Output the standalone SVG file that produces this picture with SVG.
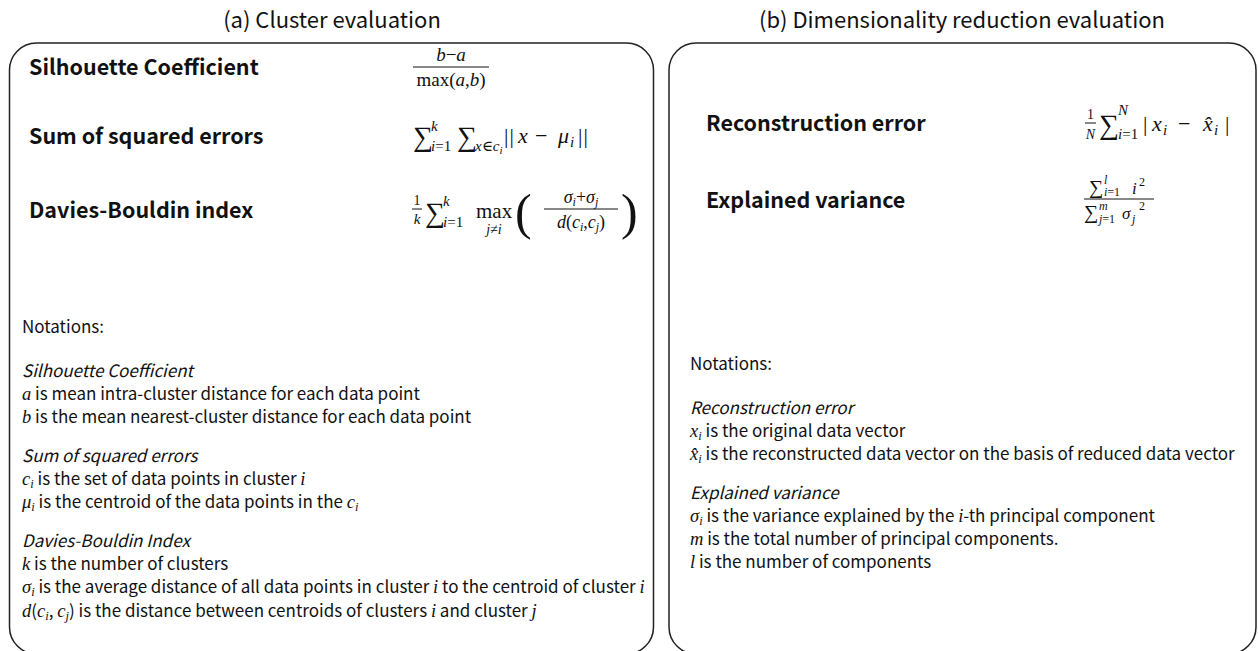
<svg xmlns="http://www.w3.org/2000/svg" width="1258" height="651" viewBox="0 0 1258 651">
  <style>
    .panel { fill: #ffffff; stroke: #222222; stroke-width: 1.5; }
    .title { font-family: "Noto Sans CJK SC", "Noto Sans", sans-serif; fill: #111111; }
    .head { font-family: "Noto Sans CJK SC", "Noto Sans", sans-serif; font-weight: bold; fill: #111111; }
    .note { font-family: "Noto Sans CJK SC", "Noto Sans", sans-serif; fill: #111111; }
    .it { font-style: italic; }
    .m { font-family: "Liberation Serif", "DejaVu Serif", serif; fill: #111111; }
    .mi { font-family: "Liberation Serif", "DejaVu Serif", serif; font-style: italic; }
    .note .mi { font-size: 18.5px; }
    .note .mi.sub { font-size: 12.5px; }
    .bar { stroke: #111111; stroke-width: 1; }
  </style>
  <rect width="1258" height="651" fill="#ffffff"/>

  <!-- panel (a): cluster evaluation -->
  <g id="cluster-panel">
    <text class="title" x="332" y="28" font-size="22" text-anchor="middle">(a) Cluster evaluation</text>
    <rect class="panel" x="9.5" y="43" width="644" height="611" rx="27" ry="27"/>
  </g>

  <g id="silhouette">
    <text class="head" x="29" y="75" font-size="21.5">Silhouette Coefficient</text>
    <text class="m" x="451" y="61" font-size="19" text-anchor="middle"><tspan class="mi">b</tspan>−<tspan class="mi">a</tspan></text>
    <line class="bar" x1="413" y1="67" x2="489" y2="67"/>
    <text class="m" x="451" y="86" font-size="19" text-anchor="middle">max(<tspan class="mi">a</tspan>,<tspan class="mi">b</tspan>)</text>
  </g>

  <g id="sse">
    <text class="head" x="29" y="144" font-size="21.5">Sum of squared errors</text>
    <text class="m" x="413" y="146" font-size="28">∑</text>
    <text class="m" x="431" y="131" font-size="15"><tspan class="mi">k</tspan></text>
    <text class="m" x="431" y="151" font-size="15"><tspan class="mi">i</tspan>=1</text>
    <text class="m" x="457" y="146" font-size="28">∑</text>
    <text class="m" x="475" y="151" font-size="15"><tspan class="mi">x</tspan>∈<tspan class="mi">c</tspan><tspan class="mi" font-size="11" dy="3">i</tspan></text>
    <text class="m" x="504" y="143" font-size="22" letter-spacing="1">||</text>
    <text class="m" x="518" y="143" font-size="22"><tspan class="mi">x</tspan></text>
    <text class="m" x="535" y="143" font-size="22">−</text>
    <text class="m" x="558" y="143" font-size="22"><tspan class="mi">μ</tspan></text>
    <text class="m" x="570" y="147" font-size="15"><tspan class="mi">i</tspan></text>
    <text class="m" x="578" y="143" font-size="22" letter-spacing="1">||</text>
  </g>

  <g id="davies-bouldin">
    <text class="head" x="29" y="218" font-size="21.5">Davies-Bouldin index</text>
    <text class="m" x="417" y="205" text-anchor="middle" font-size="14">1</text>
    <line class="bar" x1="412" y1="209" x2="422" y2="209"/>
    <text class="m" x="417" y="224" text-anchor="middle" font-size="15"><tspan class="mi">k</tspan></text>
    <text class="m" x="425" y="222" font-size="28">∑</text>
    <text class="m" x="443" y="206" font-size="15"><tspan class="mi">k</tspan></text>
    <text class="m" x="443" y="227" font-size="15"><tspan class="mi">i</tspan>=1</text>
    <text class="m" x="476" y="218" font-size="21">max</text>
    <text class="m" x="494" y="234" text-anchor="middle" font-size="14"><tspan class="mi">j</tspan>≠<tspan class="mi">i</tspan></text>
    <text class="m" x="515" y="229" font-size="50">(</text>
    <text class="m" x="581" y="203" text-anchor="middle" font-size="18"><tspan class="mi">σ</tspan><tspan class="mi" font-size="12" dy="3">i</tspan><tspan dy="-3">+</tspan><tspan class="mi">σ</tspan><tspan class="mi" font-size="12" dy="3">j</tspan></text>
    <line class="bar" x1="544" y1="209" x2="618" y2="209"/>
    <text class="m" x="581" y="228" text-anchor="middle" font-size="18"><tspan class="mi">d</tspan>(<tspan class="mi">c</tspan><tspan class="mi" font-size="12" dy="3">i</tspan><tspan dy="-3">,</tspan><tspan class="mi">c</tspan><tspan class="mi" font-size="12" dy="3">j</tspan><tspan dy="-3">)</tspan></text>
    <text class="m" x="621" y="229" font-size="50">)</text>
  </g>

  <g id="cluster-notes" class="note" font-size="17">
    <text x="22" y="333">Notations:</text>
    <text class="it" x="22" y="377">Silhouette Coefficient</text>
    <text x="22" y="400"><tspan class="mi">a</tspan> is mean intra-cluster distance for each data point</text>
    <text x="22" y="423"><tspan class="mi">b</tspan> is the mean nearest-cluster distance for each data point</text>
    <text class="it" x="22" y="462">Sum of squared errors</text>
    <text x="22" y="485"><tspan class="mi">c</tspan><tspan class="mi sub" dy="3">i</tspan><tspan dy="-3"> is the set of data points in cluster </tspan><tspan class="mi">i</tspan></text>
    <text x="22" y="508"><tspan class="mi">μ</tspan><tspan class="mi sub" dy="3">i</tspan><tspan dy="-3"> is the centroid of the data points in the </tspan><tspan class="mi">c</tspan><tspan class="mi sub" dy="3">i</tspan></text>
    <text class="it" x="22" y="547">Davies-Bouldin Index</text>
    <text x="22" y="570"><tspan class="mi">k</tspan> is the number of clusters</text>
    <text x="22" y="593"><tspan class="mi">σ</tspan><tspan class="mi sub" dy="3">i</tspan><tspan dy="-3"> is the average distance of all data points in cluster </tspan><tspan class="mi">i</tspan> to the centroid of cluster <tspan class="mi">i</tspan></text>
    <text x="22" y="617"><tspan class="mi">d</tspan>(<tspan class="mi">c</tspan><tspan class="mi sub" dy="3">i</tspan><tspan dy="-3">, </tspan><tspan class="mi">c</tspan><tspan class="mi sub" dy="3">j</tspan><tspan dy="-3">) is the distance between centroids of clusters </tspan><tspan class="mi">i</tspan> and cluster <tspan class="mi">j</tspan></text>
  </g>

  <!-- panel (b): dimensionality reduction evaluation -->
  <g id="reduction-panel">
    <text class="title" x="962" y="28" font-size="22" text-anchor="middle">(b) Dimensionality reduction evaluation</text>
    <rect class="panel" x="669" y="43" width="587" height="611" rx="27" ry="27"/>
  </g>

  <g id="reconstruction">
    <text class="head" x="706" y="131" font-size="21.5">Reconstruction error</text>
    <text class="m" x="1090.5" y="119" text-anchor="middle" font-size="14">1</text>
    <line class="bar" x1="1085" y1="123" x2="1096" y2="123"/>
    <text class="m" x="1090.5" y="139" text-anchor="middle" font-size="14"><tspan class="mi">N</tspan></text>
    <text class="m" x="1099" y="134" font-size="28">∑</text>
    <text class="m" x="1118" y="115" font-size="15"><tspan class="mi">N</tspan></text>
    <text class="m" x="1118" y="139" font-size="15"><tspan class="mi">i</tspan>=1</text>
    <text class="m" x="1143" y="131" font-size="22">|</text>
    <text class="m" x="1152" y="131" font-size="22"><tspan class="mi">x</tspan></text>
    <text class="m" x="1163" y="135" font-size="15"><tspan class="mi">i</tspan></text>
    <text class="m" x="1178" y="131" font-size="22">−</text>
    <text class="m" x="1203" y="131" font-size="22"><tspan class="mi">x̂</tspan></text>
    <text class="m" x="1214" y="135" font-size="15"><tspan class="mi">i</tspan></text>
    <text class="m" x="1225" y="131" font-size="22">|</text>
  </g>

  <g id="explained-variance">
    <text class="head" x="706" y="208" font-size="21.5">Explained variance</text>
    <text class="m" x="1089" y="194" font-size="20">∑</text>
    <text class="m" x="1104" y="184" font-size="12"><tspan class="mi">l</tspan></text>
    <text class="m" x="1104" y="196" font-size="12"><tspan class="mi">i</tspan>=1</text>
    <text class="m" x="1132" y="194" font-size="17"><tspan class="mi">i</tspan></text>
    <text class="m" x="1139" y="186" font-size="12">2</text>
    <line class="bar" x1="1084" y1="199" x2="1154" y2="199"/>
    <text class="m" x="1084" y="219" font-size="20">∑</text>
    <text class="m" x="1099" y="210" font-size="12"><tspan class="mi">m</tspan></text>
    <text class="m" x="1099" y="223" font-size="12"><tspan class="mi">j</tspan>=1</text>
    <text class="m" x="1122" y="219" font-size="17"><tspan class="mi">σ</tspan></text>
    <text class="m" x="1132" y="223" font-size="12"><tspan class="mi">j</tspan></text>
    <text class="m" x="1139" y="210" font-size="12">2</text>
  </g>

  <g id="reduction-notes" class="note" font-size="17">
    <text x="690" y="370">Notations:</text>
    <text class="it" x="690" y="414">Reconstruction error</text>
    <text x="690" y="437"><tspan class="mi">x</tspan><tspan class="mi sub" dy="3">i</tspan><tspan dy="-3"> is the original data vector</tspan></text>
    <text x="690" y="460"><tspan class="mi">x̂</tspan><tspan class="mi sub" dy="3">i</tspan><tspan dy="-3"> is the reconstructed  data vector on the basis of reduced data vector</tspan></text>
    <text class="it" x="690" y="499">Explained variance</text>
    <text x="690" y="522"><tspan class="mi">σ</tspan><tspan class="mi sub" dy="3">i</tspan><tspan dy="-3"> is the variance explained by the </tspan><tspan class="mi">i</tspan>-th principal component</text>
    <text x="690" y="545"><tspan class="mi">m</tspan> is the total number of principal components.</text>
    <text x="690" y="568"><tspan class="mi">l</tspan> is the number of components</text>
  </g>

  <!-- no connectors in this figure -->
  <g id="connectors"/>
</svg>
